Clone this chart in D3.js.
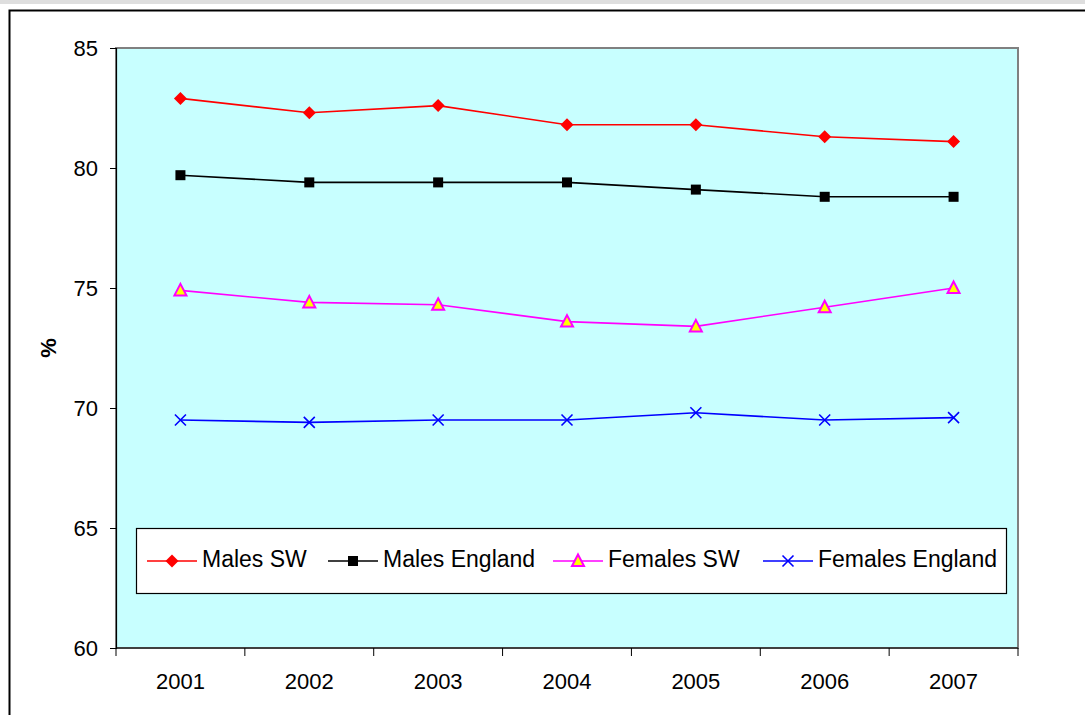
<!DOCTYPE html>
<html>
<head>
<meta charset="utf-8">
<script src="https://cdn.jsdelivr.net/npm/d3@7/dist/d3.min.js"></script>
<style>
  html, body { margin: 0; padding: 0; background: #fff; }
  svg { display: block; font-family: "Liberation Sans", Arial, sans-serif; }
</style>
</head>
<body>
<svg id="chart" width="1085" height="715"></svg>
<script>
// Percentages by year, four series
const years = ["2001", "2002", "2003", "2004", "2005", "2006", "2007"];
const malesSW        = [82.9, 82.3, 82.6, 81.8, 81.8, 81.3, 81.1];
const malesEngland   = [79.7, 79.4, 79.4, 79.4, 79.1, 78.8, 78.8];
const femalesSW      = [74.9, 74.4, 74.3, 73.6, 73.4, 74.2, 75.0];
const femalesEngland = [69.5, 69.4, 69.5, 69.5, 69.8, 69.5, 69.6];
const yTicks = [60, 65, 70, 75, 80, 85];

const seriesNames = ["Males SW", "Males England", "Females SW", "Females England"];
const seriesValues = [malesSW, malesEngland, femalesSW, femalesEngland];

const styles = [
  { color: "#ff0000", marker: "diamond" },
  { color: "#000000", marker: "square" },
  { color: "#ff00ff", marker: "triangle" },
  { color: "#0000ff", marker: "cross" }
];

const svg = d3.select("#chart");

// Strip along the top edge and the outer chart frame
svg.append("rect").attr("x", 0).attr("y", 0).attr("width", 1085).attr("height", 4).attr("fill", "#dedede");
svg.append("rect").attr("x", 9.5).attr("y", 10.5).attr("width", 1090).attr("height", 720)
  .attr("fill", "#fff").attr("stroke", "#000").attr("stroke-width", 2);

const plot = { left: 116, top: 48, right: 1018, bottom: 648 };

const x = d3.scaleBand().domain(years).range([plot.left, plot.right]);
const y = d3.scaleLinear().domain([60, 85]).range([plot.bottom, plot.top]);

// Plot area
svg.append("rect")
  .attr("x", plot.left).attr("y", plot.top)
  .attr("width", plot.right - plot.left).attr("height", plot.bottom - plot.top)
  .attr("fill", "#c8ffff").attr("stroke", "#808080").attr("stroke-width", 2);

// Y axis
const yAxis = svg.append("g")
  .attr("transform", `translate(${plot.left},0)`)
  .call(d3.axisLeft(y).tickValues(yTicks).tickSize(6).tickPadding(12).tickFormat(d3.format("d")));
yAxis.select(".domain").attr("stroke", "#000").attr("stroke-width", 1.2);
yAxis.selectAll(".tick line").attr("stroke", "#000");
yAxis.selectAll(".tick text").attr("font-size", 22).attr("fill", "#000")
  .attr("font-family", "Liberation Sans, Arial, sans-serif");

// X axis with ticks on category boundaries
const xAxisG = svg.append("g").attr("transform", `translate(0,${plot.bottom})`);
xAxisG.append("line").attr("x1", plot.left).attr("x2", plot.right)
  .attr("y1", 0).attr("y2", 0).attr("stroke", "#000").attr("stroke-width", 1.2);
const bounds = years.map(d => x(d)).concat([x(years[years.length - 1]) + x.bandwidth()]);
xAxisG.selectAll("line.tk").data(bounds).join("line").attr("class", "tk")
  .attr("x1", d => d).attr("x2", d => d).attr("y1", 0).attr("y2", 8)
  .attr("stroke", "#000").attr("stroke-width", 1);
xAxisG.selectAll("text").data(years).join("text")
  .attr("x", d => x(d) + x.bandwidth() / 2).attr("y", 41)
  .attr("text-anchor", "middle").attr("font-size", 22).attr("fill", "#000")
  .text(d => d);

// Y axis title
svg.append("text")
  .attr("transform", "translate(56,348) rotate(-90)")
  .attr("text-anchor", "middle").attr("font-size", 22).attr("font-weight", "bold")
  .text("%");

// Marker drawing
function drawMarker(g, kind, color, cx, cy) {
  if (kind === "diamond") {
    g.append("path").attr("d", `M${cx},${cy - 6.5}L${cx + 6.5},${cy}L${cx},${cy + 6.5}L${cx - 6.5},${cy}Z`)
      .attr("fill", color);
  } else if (kind === "square") {
    g.append("rect").attr("x", cx - 5).attr("y", cy - 5).attr("width", 10).attr("height", 10).attr("fill", color);
  } else if (kind === "triangle") {
    g.append("path").attr("d", `M${cx},${cy - 6.5}L${cx + 6},${cy + 5}L${cx - 6},${cy + 5}Z`)
      .attr("fill", "#ffff00").attr("stroke", color).attr("stroke-width", 2);
  } else if (kind === "cross") {
    g.append("path").attr("d", `M${cx - 5.5},${cy - 5.5}L${cx + 5.5},${cy + 5.5}M${cx + 5.5},${cy - 5.5}L${cx - 5.5},${cy + 5.5}`)
      .attr("stroke", color).attr("stroke-width", 1.6).attr("fill", "none");
  }
}

const line = d3.line()
  .x((d, i) => x(years[i]) + x.bandwidth() / 2)
  .y(d => y(d));

seriesValues.forEach((vals, si) => {
  const st = styles[si];
  const g = svg.append("g");
  g.append("path").datum(vals).attr("d", line)
    .attr("fill", "none").attr("stroke", st.color).attr("stroke-width", 1.6);
  vals.forEach((v, i) => drawMarker(g, st.marker, st.color, x(years[i]) + x.bandwidth() / 2, y(v)));
});

// Legend
const legend = svg.append("g");
legend.append("rect").attr("x", 136.5).attr("y", 528.5).attr("width", 870).attr("height", 65)
  .attr("fill", "#fff").attr("stroke", "#000").attr("stroke-width", 1.2);
const legendX = [147, 328, 553, 763];
seriesNames.forEach((name, si) => {
  const st = styles[si];
  const lx = legendX[si], ly = 561;
  legend.append("line").attr("x1", lx).attr("x2", lx + 50).attr("y1", ly).attr("y2", ly)
    .attr("stroke", st.color).attr("stroke-width", 1.6);
  drawMarker(legend, st.marker, st.color, lx + 25, ly);
  legend.append("text").attr("x", lx + 55).attr("y", ly + 6).attr("font-size", 23)
    .attr("fill", "#000").text(name);
});
</script>
</body>
</html>
